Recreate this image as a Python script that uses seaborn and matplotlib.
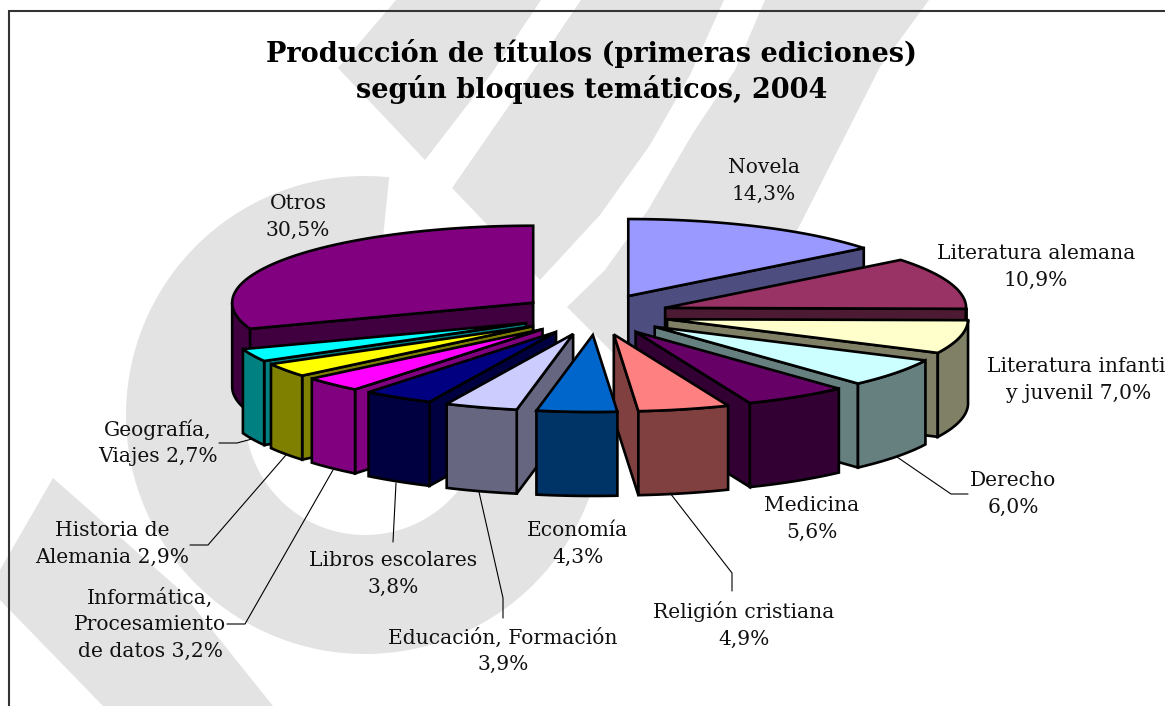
import numpy as np
import matplotlib
matplotlib.use('Agg')
import matplotlib.pyplot as plt
import seaborn as sns

# data, clockwise from twelve o'clock
categories = ['Novela', 'Literatura alemana', 'Literatura infantil\ny juvenil', 'Derecho',
              'Medicina', 'Religión cristiana', 'Economía', 'Educación, Formación',
              'Libros escolares', 'Informática,\nProcesamiento\nde datos', 'Historia de\nAlemania',
              'Geografía,\nViajes', 'Otros']
shares = [14.3, 10.9, 7.0, 6.0, 5.6, 4.9, 4.3, 3.9, 3.8, 3.2, 2.9, 2.7, 30.5]
title_lines = ['Producción de títulos (primeras ediciones)', 'según bloques temáticos, 2004']
slice_colors = ['#9999FF', '#993366', '#FFFFCC', '#CCFFFF', '#660066', '#FF8080', '#0066CC',
                '#CCCCFF', '#000080', '#FF00FF', '#FFFF00', '#00FFFF', '#800080']

# label centres in pixels, and whether the share stays on its own line
label_pos = [(764, 181), (1036, 267), (1079, 380), (1013, 494), (812, 519), (744, 625), (578, 544),
             (503, 651), (393, 574), (150, 624), (112, 544), (158, 443), (298, 217)]
own_line = [True, True, False, True, True, True, True, True, True, False, False, False, True]

leaders = [[(897, 457), (951, 494), (968, 494)],
           [(670, 493), (732, 573), (732, 591)],
           [(479, 492), (503, 598), (503, 618)],
           [(396, 483), (393, 542)],
           [(333, 470), (245, 624), (227, 624)],
           [(286, 455), (208, 545), (190, 545)],
           [(252, 439), (237, 443), (219, 443)]]

CX, CY = 597, 314.5
RX, RY = 301, 77
EX_RIGHT, EX_LEFT, EY = 72, 78, 20.5
DEPTH = 84
GREY = '#E3E3E3'

sns.set_theme(style='white')
plt.rcParams['font.family'] = ['DejaVu Serif']
palette = sns.color_palette(slice_colors)

fig = plt.figure(figsize=(11.65, 7.06), dpi=100)
ax = fig.add_axes([0, 0, 1, 1])
ax.set_xlim(0, 1165)
ax.set_ylim(706, 0)
ax.axis('off')


def background(ax):
    # grey logo behind the chart
    cx, cy = 365, 415
    a = np.radians(np.linspace(5.8, -270, 200))
    xs = np.r_[cx + 239 * np.sin(a), cx + 120 * np.sin(a[::-1])]
    ys = np.r_[cy - 239 * np.cos(a), cy - 120 * np.cos(a[::-1])]
    ax.fill(xs, ys, color=GREY, lw=0)
    shapes = [
        [(396, 0), (338, 68), (425, 160), (492, 73), (541, 0)],
        [(581, 0), (520, 90), (452, 188), (540, 280), (600, 215), (650, 145), (690, 75), (724, 0)],
        [(765, 0), (735, 70), (693, 133), (648, 210), (605, 270), (567, 307), (640, 380),
         (740, 340), (804, 217), (880, 67), (929, 0)],
        [(53, 478), (0, 570), (0, 600), (103, 706), (273, 706), (180, 590)],
    ]
    for s in shapes:
        ax.fill(*zip(*s), color=GREY, lw=0)


def arc_points(apex, a0, a1):
    a = np.radians(np.linspace(a0, a1, 80))
    return apex[0] + RX * np.sin(a), apex[1] - RY * np.cos(a)


def face(ax, xs, ys, color):
    ax.fill(xs, ys, facecolor=color, edgecolor='black', lw=1.9, joinstyle='miter')


def side(ax, x0, y0, x1, y1, color):
    face(ax, [x0, x1, x1, x0], [y0, y1, y1 + DEPTH, y0 + DEPTH], color)


def draw_slice(ax, start, stop, color):
    mid = np.radians((start + stop) / 2)
    ex = EX_RIGHT if np.sin(mid) > 0 else EX_LEFT
    apex = (CX + ex * np.sin(mid), CY - EY * np.cos(mid))
    dark = tuple(np.array(color) * 0.5)
    xs, ys = arc_points(apex, start, stop)

    # radial walls first, then the rounded wall, then the top
    if np.sin(np.radians(start)) < 0:
        side(ax, apex[0], apex[1], xs[0], ys[0], dark)
    if np.sin(np.radians(stop)) > 0:
        side(ax, apex[0], apex[1], xs[-1], ys[-1], dark)
    lo, hi = max(start, 90), min(stop, 270)
    if lo < hi:
        wx, wy = arc_points(apex, lo, hi)
        face(ax, np.r_[wx, wx[::-1]], np.r_[wy, wy[::-1] + DEPTH], dark)
    face(ax, np.r_[apex[0], xs], np.r_[apex[1], ys], color)


background(ax)

# frame: the right and bottom sides fall outside the picture
ax.plot([9, 9, 1165], [706, 10.5, 10.5], color='#333333', lw=1.5, solid_joinstyle='miter')

edges = np.r_[0, np.cumsum(shares)] / sum(shares) * 360
mids = (edges[:-1] + edges[1:]) / 2
# painter's order, back slices first
for i in np.argsort(-np.cos(np.radians(mids))):
    draw_slice(ax, edges[i], edges[i + 1], palette[i])

for pts in leaders:
    ax.plot(*zip(*pts), color='black', lw=0.8)

for name, val, pos, alone in zip(categories, shares, label_pos, own_line):
    val_txt = f'{val:.1f}%'.replace('.', ',')
    txt = name + ('\n' if alone else ' ') + val_txt
    ax.text(pos[0], pos[1], txt, ha='center', va='center', ma='center',
            fontsize=14.6, linespacing=1.5, color='#111111')

ax.text(592, 53, title_lines[0], ha='center', va='center', fontsize=19.5, fontweight='bold', color='black')
ax.text(592, 90, title_lines[1], ha='center', va='center', fontsize=19.5, fontweight='bold', color='black')

fig.savefig('out.png', dpi=100, facecolor='white')
